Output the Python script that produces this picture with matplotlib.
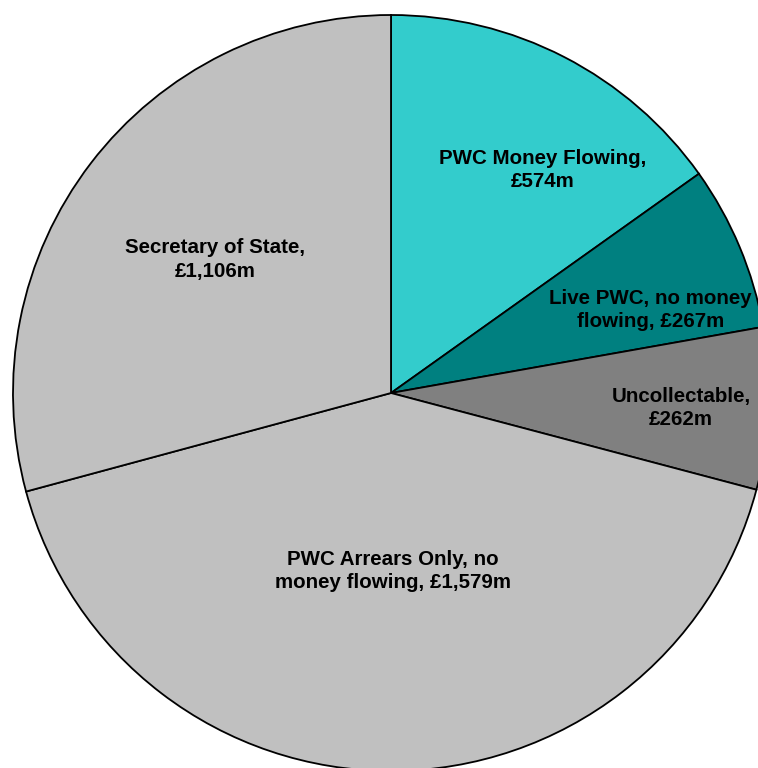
import numpy as np
import matplotlib
matplotlib.use("Agg")
import matplotlib.pyplot as plt

# data
labels = ["PWC Money Flowing,\n£574m",
          "Live PWC, no money\nflowing, £267m",
          "Uncollectable,\n£262m",
          "PWC Arrears Only, no\nmoney flowing, £1,579m",
          "Secretary of State,\n£1,106m"]
values = [574, 267, 262, 1579, 1106]
colors = ["#33CCCC", "#008080", "#808080", "#C0C0C0", "#C0C0C0"]

# label placement (fraction of radius, angle shift in degrees)
label_r = [0.714, 0.72, 0.768, 0.471, 0.584]
label_dang = [-7.0, -5.0, -0.6, 0.5, 0.3]

fig = plt.figure(figsize=(7.58, 7.68), dpi=100)
ax = fig.add_axes([0, 0, 1, 1])

cx, cy, R = 391, 375, 378
wedges, _ = ax.pie(values, colors=colors, startangle=90, counterclock=False,
                   center=(cx, cy), radius=R,
                   wedgeprops=dict(edgecolor="black", linewidth=1.3))

for w, txt, f, da in zip(wedges, labels, label_r, label_dang):
    ang = np.deg2rad((w.theta1 + w.theta2) / 2 + da)
    ax.text(cx + f * R * np.cos(ang), cy + f * R * np.sin(ang), txt,
            ha="center", va="center", fontsize=14.8, fontweight="bold",
            family="Liberation Sans", linespacing=1.3, color="black")

ax.set_xlim(0, 758)
ax.set_ylim(0, 768)
ax.set_aspect("equal")
ax.axis("off")

fig.savefig("out.png", dpi=100, facecolor="white")
